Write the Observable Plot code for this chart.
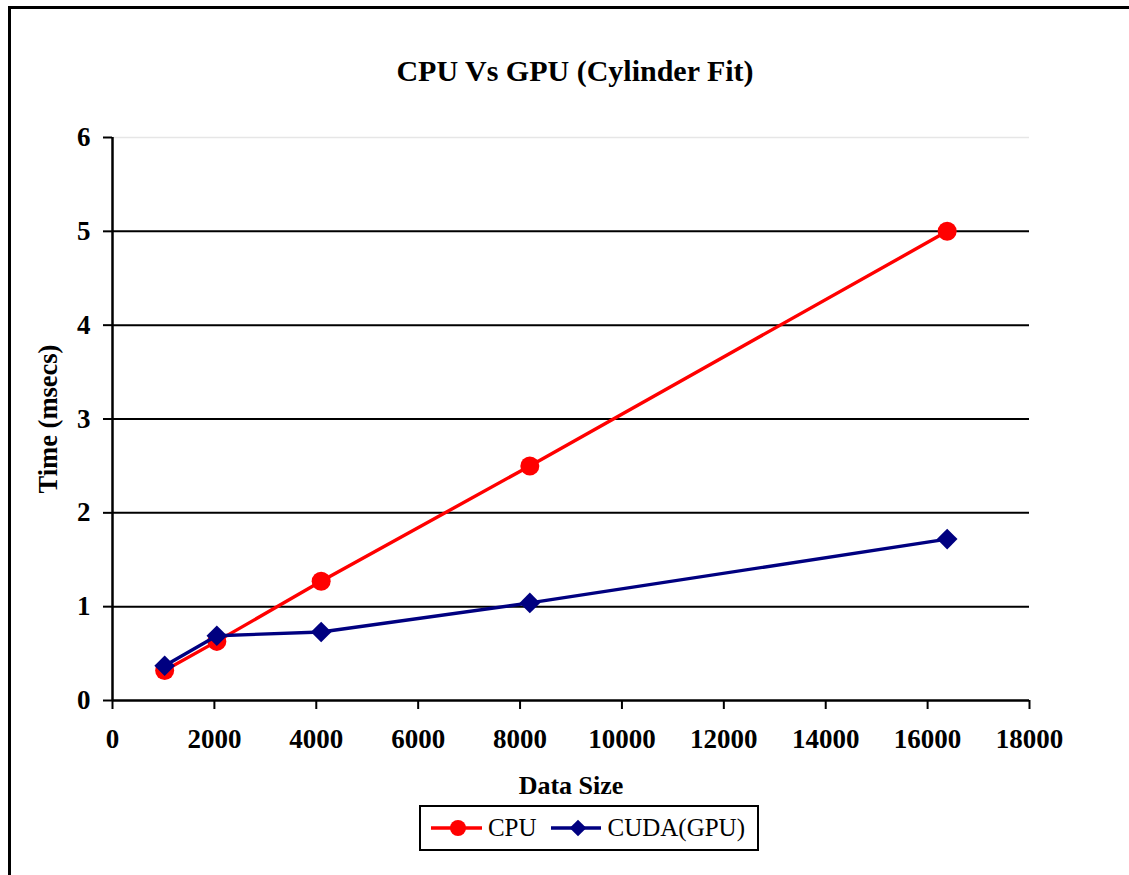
<!DOCTYPE html>
<html>
<head>
<meta charset="utf-8">
<script src="https://cdn.jsdelivr.net/npm/d3@7"></script>
<script src="https://cdn.jsdelivr.net/npm/@observablehq/plot@0.6"></script>
<style>
  html, body { margin: 0; padding: 0; background: #fff; overflow: hidden; width: 1129px; height: 875px; }
  #frame { position: absolute; left: 8px; top: 6px; width: 1200px; height: 950px; border: 3px solid #000; box-sizing: border-box; }
  #chart { position: absolute; left: 0; top: 0; }
  #title { position: absolute; left: 0; width: 1150px; top: 54px; text-align: center; font: bold 30px "Liberation Serif", serif; }
  #legend { position: absolute; left: 419px; top: 805px; width: 340px; height: 46px; border: 2px solid #000; box-sizing: border-box; background: #fff;
            font: 25px "Liberation Serif", serif; display: flex; align-items: center; padding-left: 8px; }
  #legend span { margin-left: 6px; margin-right: 12px; }
  #legend svg { display: block; }
</style>
</head>
<body>
<div id="frame"></div>
<div id="chart"></div>
<div id="title">CPU Vs GPU (Cylinder Fit)</div>
<div id="legend"></div>
<script>
const dataSize = [1024, 2048, 4096, 8192, 16384];
const cpuTime = [0.32, 0.63, 1.27, 2.50, 5.00];
const gpuTime = [0.37, 0.69, 0.73, 1.04, 1.72];
const seriesNames = ["CPU", "CUDA(GPU)"];
const seriesColors = ["#ff0000", "#000080"];
const xTicks = [0, 2000, 4000, 6000, 8000, 10000, 12000, 14000, 16000, 18000];
const yTicks = [0, 1, 2, 3, 4, 5, 6];
const gridValues = [1, 2, 3, 4, 5];

const cpu = dataSize.map((x, i) => ({x, y: cpuTime[i]}));
const gpu = dataSize.map((x, i) => ({x, y: gpuTime[i]}));

const plot = Plot.plot({
  width: 1129,
  height: 875,
  marginLeft: 112,
  marginRight: 100,
  marginTop: 137,
  marginBottom: 175,
  style: {fontFamily: "Liberation Serif, serif", fontWeight: "bold", fontSize: "27px", background: "transparent", color: "#000"},
  x: {domain: [0, 18000]},
  y: {domain: [0, 6]},
  marks: [
    Plot.ruleY(gridValues, {stroke: "#000", strokeWidth: 2}),
    Plot.ruleY([6], {stroke: "#e6e6e6", strokeWidth: 1.5}),
    Plot.ruleX([0], {stroke: "#000", strokeWidth: 2.5}),
    Plot.ruleY([0], {stroke: "#000", strokeWidth: 2.5}),
    Plot.axisX({ticks: xTicks, tickFormat: d => String(d), tickSize: 9, tickPadding: 19, strokeWidth: 2,
                label: null, fontSize: 27}),
    Plot.axisY({ticks: yTicks, tickFormat: d => String(d), tickSize: 9, tickPadding: 13, strokeWidth: 2,
                label: null, fontSize: 27}),
    Plot.text(["Data Size"], {frameAnchor: "bottom", textAnchor: "middle", dy: 93, fontSize: 26, fontWeight: "bold"}),
    Plot.text(["Time (msecs)"], {frameAnchor: "left", textAnchor: "middle", dx: -64, rotate: -90, fontSize: 26.5, fontWeight: "bold"}),
    Plot.line(cpu, {x: "x", y: "y", stroke: seriesColors[0], strokeWidth: 3.4}),
    Plot.dot(cpu, {x: "x", y: "y", fill: seriesColors[0], r: 9.5, symbol: "circle"}),
    Plot.line(gpu, {x: "x", y: "y", stroke: seriesColors[1], strokeWidth: 3.4}),
    Plot.dot(gpu, {x: "x", y: "y", fill: seriesColors[1], r: 9.3, symbol: "diamond2"})
  ]
});
document.getElementById("chart").appendChild(plot);

// legend
const legend = d3.select("#legend");
const symbols = [d3.symbolCircle, d3.symbolDiamond2];
const symSizes = [Math.PI * 8 * 8, Math.PI * 7.5 * 7.5];
seriesNames.forEach((name, i) => {
  const svg = legend.append("svg").attr("width", 58).attr("height", 30);
  svg.append("line").attr("x1", 2).attr("x2", 56).attr("y1", 15).attr("y2", 15)
    .attr("stroke", seriesColors[i]).attr("stroke-width", 3.5);
  svg.append("path").attr("transform", "translate(29,15)")
    .attr("d", d3.symbol(symbols[i], symSizes[i])()).attr("fill", seriesColors[i]);
  legend.append("span").text(name);
});
</script>
</body>
</html>
